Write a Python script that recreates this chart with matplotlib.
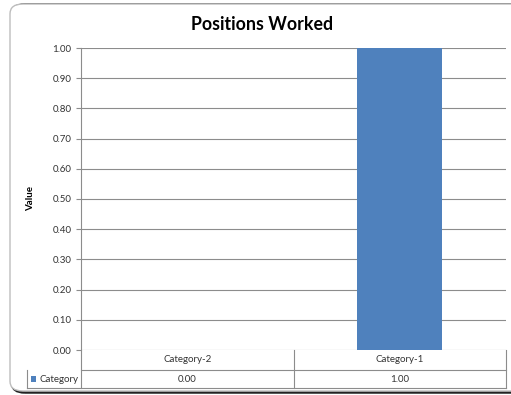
import matplotlib.pyplot as plt
from matplotlib.patches import FancyBboxPatch, Rectangle

plt.rcParams['font.family'] = ['Lato', 'DejaVu Sans']

categories = ["Category-2", "Category-1"]
values = [0.00, 1.00]
series_name = "Category"
yticks = [0.0, 0.1, 0.2, 0.3, 0.4, 0.5, 0.6, 0.7, 0.8, 0.9, 1.0]

W, H = 511, 395
fig = plt.figure(figsize=(W / 100, H / 100), dpi=100)

# rounded chart-area frame with a dark shadow
fig.patches.append(FancyBboxPatch((12 / W, 2.5 / H), 520 / W, 388 / H,
                                  boxstyle="round,pad=0,rounding_size=0.025",
                                  transform=fig.transFigure, facecolor="none",
                                  edgecolor="#222222", linewidth=1.8, zorder=-2))
fig.patches.append(FancyBboxPatch((10 / W, 4 / H), 520 / W, 387 / H,
                                  boxstyle="round,pad=0,rounding_size=0.025",
                                  transform=fig.transFigure, facecolor="white",
                                  edgecolor="#bdbdbd", linewidth=1.0, zorder=-1))

left, right, top, base = 81, 506, 48, 350
pw, ph = right - left, base - top
ax = fig.add_axes([left / W, 1 - base / H, pw / W, ph / H])
ax.set_facecolor("none")

x = list(range(len(categories)))
ax.bar(x, values, width=0.4, color="#4F81BD", zorder=2)
ax.set_xlim(-0.5, len(categories) - 0.5)
ax.set_ylim(0, 1)
ax.set_yticks(yticks)
ax.set_yticklabels([f"{v:.2f}" for v in yticks], fontsize=7, color="#333333")
ax.set_xticks([])
ax.grid(axis="y", color="#8c8c8c", linewidth=0.8, zorder=1)
ax.tick_params(axis="y", length=3.5, width=0.8, color="#8c8c8c", pad=3.5)
for s in ["top", "right", "bottom"]:
    ax.spines[s].set_visible(False)
ax.spines["left"].set_color("#8c8c8c")
ax.spines["left"].set_linewidth(0.8)

ax.set_ylabel("Value", fontsize=7, fontweight="bold")
ax.yaxis.set_label_coords(-(left - 35) / pw, 0.5)

fig.text(262 / W, 1 - 25 / H, "Positions Worked", ha="center", va="center",
         fontsize=12.8, fontweight="bold")

# data table under the plot, drawn in axes coordinates
def ay(py):
    return (base - py) / ph

def ax_x(px):
    return (px - left) / pw

grid_kw = dict(transform=ax.transAxes, clip_on=False, color="#8c8c8c", lw=0.8)
row_mid, row_bot, tab_left = 370, 388, 27
ax.plot([0, 1], [ay(row_mid)] * 2, **grid_kw)
ax.plot([ax_x(tab_left), 1], [ay(row_bot)] * 2, **grid_kw)
ax.plot([ax_x(tab_left)] * 2, [ay(row_mid), ay(row_bot)], **grid_kw)
n = len(categories)
for i in range(n + 1):
    ax.plot([i / n] * 2, [0, ay(row_bot)], **grid_kw)

for i, (cat, v) in enumerate(zip(categories, values)):
    xc = (i + 0.5) / n
    ax.text(xc, ay((base + row_mid) / 2), cat, transform=ax.transAxes,
            ha="center", va="center", fontsize=7, color="#333333")
    ax.text(xc, ay((row_mid + row_bot) / 2), f"{v:.2f}", transform=ax.transAxes,
            ha="center", va="center", fontsize=7, color="#333333")

# legend key in the row header
ax.add_patch(Rectangle((ax_x(31), ay(382)), 5 / pw, 6 / ph,
                       transform=ax.transAxes, clip_on=False,
                       facecolor="#4F81BD", edgecolor="none", zorder=5))
ax.text(ax_x(40), ay((row_mid + row_bot) / 2), series_name, transform=ax.transAxes,
        ha="left", va="center", fontsize=7, color="#333333")

fig.savefig("out.png", dpi=100)
